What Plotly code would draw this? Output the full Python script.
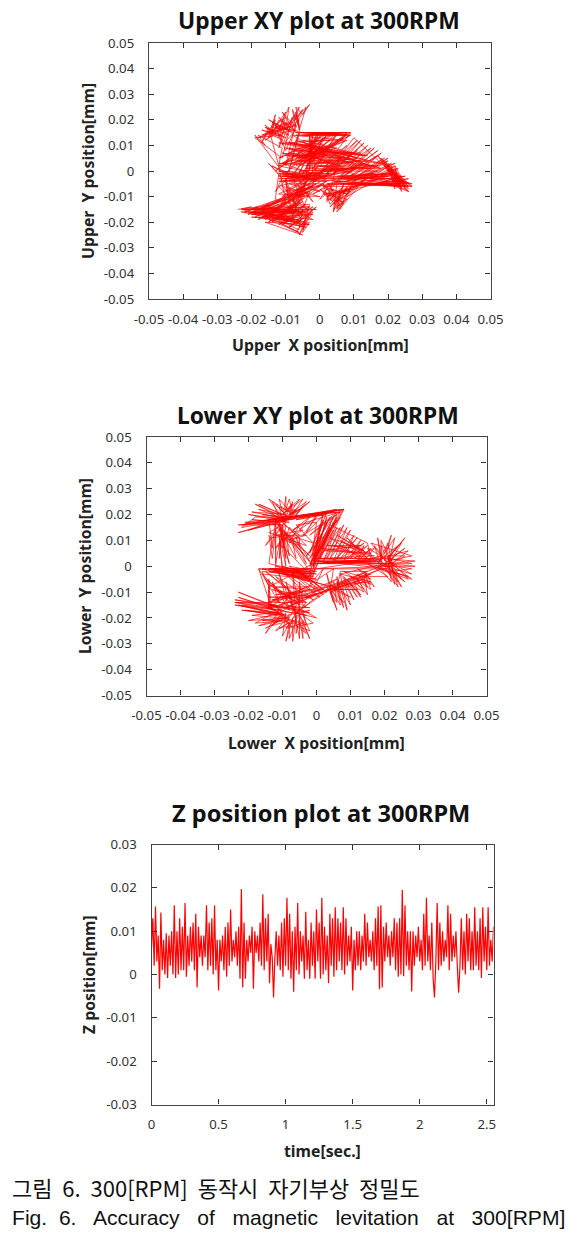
import plotly.graph_objects as go

W, H = 583, 1233

axis_ticks_xy = [-0.05, -0.04, -0.03, -0.02, -0.01, 0, 0.01, 0.02, 0.03, 0.04, 0.05]
axis_labels_xy = ["-0.05", "-0.04", "-0.03", "-0.02", "-0.01", "0", "0.01", "0.02", "0.03", "0.04", "0.05"]
z_ticks = [-0.03, -0.02, -0.01, 0, 0.01, 0.02, 0.03]
z_labels = ["-0.03", "-0.02", "-0.01", "0", "0.01", "0.02", "0.03"]
time_ticks = [0, 0.5, 1, 1.5, 2, 2.5]
time_labels = ["0", "0.5", "1", "1.5", "2", "2.5"]

# Trajectories, in 0.001 mm: (x, y)
upper_path = [
 (-24,-15),(-20,-14),(-23,-15),(-18,-14),(-22,-16),(-15,-13),(-20,-17),(-12,-13),(-19,-18),(-9,-12),(-16,-19),(-7,-13),
 (-14,-20),(-5,-14),(-11,-21),(-3,-15),(-9,-22),(-2,-16),(-6,-25),(-4,-18),(-5,-24),(-3,-20),(-6,-22),(-5,-15),
 (-8,-18),(-6,-11),(-10,-16),(-5,-9),(-12,-14),(-4,-7),(-14,-12),(-3,-8),(-18,-15),(-2,-6),(-20,-16),(-8,-20),
 (-23,-16),(-14,-12),(-21,-17),(-12,-12),(-19,-17),(-10,-12),(-18,-19),(-8,-11),(-16,-18),(-6,-12),(-15,-20),(-5,-12),
 (-13,-19),(-4,-13),(-12,-21),(-3,-14),(-10,-20),(-2,-14),(-9,-22),(-1,-14),(-7,-21),(-2,-15),(-7,-24),(-3,-17),
 (-5,-23),(-3,-13),(-20,-15),(-4,-16),(-22,-16),(-5,-16),(-23,-15),(-6,-15),(-20,-17),(-7,-16),(-17,-18),(-8,-16),
 (-15,-14),(-9,-18),(-13,-15),(-10,-19),(-12,-17),(-7,-19),(-17,-16),(-6,-20),(-19,-16),(-5,-21),(-14,-17),(-4,-20),
 (-20,-18),(-6,-19),(-18,-18),(-4,-22),(-15,-19),(-6,-24),(-12,-20),(-5,-25),(-16,-20),(-3,-21),(-21,-16),(-2,-19),
 (-13,-11),(-12,-1),(-15,3),(-11,-3),(-13,-8),(-9,-2),(-14,2),(-6,-3),(-12,-1),(-3,-2),(-12,-3),(0,-3),(-11,-2),
 (2,-2),(-10,-1),(-1,-4),(-12,0),(1,-1),(-11,-4),(3,-3),(-12,-2),(0,-2),(-8,-9),(1,-5),(-9,-5),(0,-8),(-6,-4),
 (-2,-12),(-8,-3),(-4,-15),(-11,-6),(0,-10),(-12,-9),(-1,-1),(-12,2),(-11,9),(-15,12),(-18,14),(-16,10),(-19,14),
 (-10,-2),(-3,-3),(-12,-4),(2,-4),(-11,-1),(3,-1),(-10,-3),(-2,-1),(-9,-4),(1,-2),(-11,0),(0,-4),(-8,-1),(2,-3),
 (-9,-10),(-3,-5),(-11,-10),(-4,-3),(-12,-6),(-7,-13),(-10,-3),(-9,-13),(-3,-3),(-11,-12),(-1,-5),(-7,-10),(-3,-10),
 (-6,-6),(-8,-12),(-4,-4),(-6,-12),(-2,-3),(-10,-8),(0,-6),(-10,-12),(-12,2),
 (-15,17),(-17,11),(-13,20),(-15,13),(-13,22),(-14,15),(-10,23),(-12,16),(-9,25),(-10,16),(-6,25),(-8,17),(-3,26),
 (-5,22),(-7,25),(-6,18),(-6,15),(-12,20),(-14,14),(-16,18),(-11,12),(-15,15),(-10,19),(-12,9),(-8,21),(-11,5),
 (-19,13),(-11,14),(-17,16),(-10,13),(-16,17),(-9,14),(-14,19),(-8,15),(-15,20),(-9,16),(-12,21),(-7,15),(-11,23),
 (-7,17),(-8,24),(-6,17),(-7,23),(-6,16),(-4,25),(-7,20),(-5,24),(-8,19),(-17,14),(-7,18),(-18,13),(-10,17),(-16,12),
 (-9,19),(-13,17),(-8,16),(-14,17),(-10,21),(-12,13),(-7,22),(-11,10),(-7,16),(-11,15),(-13,18),(-10,8),(-6,20),
 (-7,19),(-10,2),(-6,15),(-9,0),(-6,15),(8,14),(-5,14),(9,15),(-7,15),(7,15),(-4,14),(8,15),(-6,15),(6,15),(-2,7),
 (8,14),(-5,15),(6,14),(-7,14),(9,14),(-3,15),(5,14),(-2,1),(8,15),(-4,2),(7,13),(-6,2),(9,14),(-8,3),(8,12),
 (-11,3),(5,15),(-12,5),(3,15),(-10,-1),(1,15),(-8,-2),(0,15),(-6,-1),(-1,14),(-4,-1),(-2,15),(-3,0),(-3,14),(-2,-1),
 (5,15),(-4,4),(9,15),(0,-1),(11,12),(1,-3),(13,11),(3,-2),(15,9),(5,-4),(17,8),(6,-3),(18,7),(8,-4),(20,5),(10,-4),
 (22,3),(12,-4),(23,1),(14,-4),(25,-2),(16,-5),(26,-3),(18,-5),(27,-6),(20,-5),(26,-8),(22,-5),(25,-6),(19,3),(26,-7),
 (10,13),(2,-1),(12,12),(4,-1),(14,10),(6,-2),(16,9),(8,-1),(17,6),(9,-2),(19,5),(11,-2),(20,4),(13,-2),(21,3),(15,-3),
 (22,2),(17,-3),(23,-1),(18,-2),(24,-2),(19,-4),(25,-4),(21,-4),(26,-5),(20,-3),(27,-5),(22,-3),(26,-6),(23,-2),
 (19,4),(24,-6),(20,3),(22,-7),(21,2),(25,-7),(22,1),(24,-8),(19,2),(26,-8),(18,4),(23,-5),(21,1),(27,-6),
 (21,0),(24,-7),(18,5),(25,-5),(22,2),(23,-6),(17,6),(24,-4),(20,1),(26,-6),(15,-5),(24,-6),(12,-5),(22,-5),(9,-6),
 (20,-4),(7,-8),(17,-3),(8,-10),(14,-2),(5,-16),(11,-2),(3,-14),(9,-8),(1,-9),(8,-11),(4,-15),(6,-8),(5,-14),(7,-12),
 (2,-11),(4,-7),(0,-11),(3,-5),(-2,-9),(10,-1),(-6,4),(16,2),(-9,7),(18,3),(-8,11),(14,6),(-7,9),(10,3),(-10,6),(6,6),
 (2,-12),(7,-6),(3,-11),(8,-7),(4,-13),(9,-6),(6,-14),(3,-6),(7,-13),(2,-7),(8,-9),(1,-6),(11,-6),(3,-9),(13,-5),
 (5,-5),(4,-16),(7,-5),(5,-15),(8,-6),(3,-13),(1,-5),(5,-12),(0,-7),(6,-15),(9,-7),(2,-10),(10,-7),(6,-11),(1,-8),
 (5,-5),(18,-5),(4,-4),(21,-5),(6,-5),(23,-5),(8,-5),(25,-6),(2,-5),(17,-2),(-1,-6),(20,-3),(0,-2),
 (-11,3),(5,9),(-10,11),(3,12),(-7,2),(2,14),(-5,-1),(1,13),(-4,-2),(8,10),(-2,-3),(7,6),(-1,-2),(11,8),(0,-3),(13,3),
 (1,-2),(9,0),(-1,-3),(16,-1),(1,-4),(20,-2),(3,-3),(21,-1),(5,-2),(23,-3),(7,-3),(24,-5),(10,-2),(22,-1),(12,-3),
 (19,-1),(8,-3),(17,0),(-1,0),(15,1),(-4,1),(12,4),(-3,7),(10,7),(-5,12),(7,12),(-8,14),(2,6),(-12,2),(-1,12),(-13,0),
 (-9,4),(4,4),(-11,7),(6,2),(-10,9),(9,5),(-8,6),(12,7),(-6,8),(13,6),(-4,10),(11,5),(-2,3),(14,4),(-7,12),(15,2),
 (-3,-1),(17,2),(0,2),(18,1),(-9,11),(4,7),(-12,11),(1,9),(-7,5),(-1,6),(-9,9),(3,3),(-12,3),(8,1),(-6,0),(10,1),
 (-3,14),(-1,-2),(-6,-18),(-10,-4),(-8,-17),(-3,-1),(-10,-20),(-1,-3),(-12,-18),(2,-4),(-15,-17),(-5,-6),(-17,-15),
 (-10,-11),(-20,-15),(-3,-14),(-22,-15),(-1,-15),(-18,-16),(-2,-17),(-14,-18),(-6,-23),
]

lower_path = [
 (-23,-14),(-12,-15),(-24,-13),(-11,-16),(-23,-10),(-10,-17),(-22,-15),(-9,-19),(-21,-17),(-8,-20),(-20,-21),(-10,-18),
 (-15,-26),(-11,-17),(-18,-22),(-8,-21),(-13,-23),(-9,-18),(-10,-27),(-8,-22),(-9,-29),(-7,-20),(-7,-29),(-6,-19),
 (-6,-26),(-5,-20),(-4,-28),(-4,-21),(-2,-28),(-5,-19),(-3,-23),(-4,-17),(0,-20),(-6,-18),(-2,-17),(-7,-20),(-3,-14),
 (-24,-14),(-13,-16),(-23,-12),(-12,-17),(-24,-15),(-11,-18),(-22,-17),(-10,-19),(-23,-15),(-13,-18),(-19,-19),(-10,-20),
 (-17,-23),(-10,-21),(-16,-21),(-9,-20),(-15,-24),(-8,-19),(-12,-25),(-7,-21),(-11,-24),(-8,-23),(-8,-28),(-6,-21),
 (-5,-28),(-5,-22),(-3,-26),(-6,-23),(-2,-25),(-4,-19),(-1,-22),(-5,-23),(-5,-18),(-9,-19),(-14,-16),(-6,-22),
 (-9,-22),(-5,-13),(-12,-19),(-8,-11),(-14,-16),(-14,-5),(-14,-16),(-14,-8),(-13,-17),(-17,-1),(-11,-14),(-13,-6),
 (-8,-17),(-11,-3),(-6,-19),(-9,-6),(-6,-21),(-7,-3),(-5,-17),(-5,-6),(-4,-14),(-15,-2),(-3,-14),(-13,-9),(-2,-12),
 (-14,-12),(0,-11),(-11,-15),(4,-9),(-9,-16),(3,-9),(-6,-18),(5,-8),(-16,-1),(-2,-1),(-17,-1),(-1,-3),(-14,-2),(-1,-5),
 (-16,-3),(-7,-15),(-15,-5),(-5,-15),(-14,-7),(-3,-16),(-12,-4),(-1,-13),(-10,-2),(1,-12),(-8,-2),(2,-11),(-6,-1),
 (3,-10),(-4,-3),(1,-8),(-12,-8),(-2,-9),(-13,-13),(-4,-10),(-10,-12),(-1,-7),(-14,-14),(2,-9),(-12,-11),(4,-8),
 (-13,-1),(-2,-2),(-12,0),(0,-5),(-13,-2),(-2,-6),(-13,-1),(0,-3),(-14,1),(-13,10),(-14,12),(-13,3),(-12,14),(-12,-1),
 (-12,-2),(-1,-1),(-14,-1),(-3,-3),(-11,-1),(-2,-5),(-10,0),(-1,-4),(-9,-2),(0,-2),(-8,0),(-1,-6),(-7,-1),(-2,-3),
 (-11,9),(-10,-1),(-11,12),(-9,0),(-10,11),(-8,1),(-11,15),(-6,3),(-7,9),(-3,1),(-6,11),(-2,2),(-12,17),(-4,5),(-14,18),
 (-13,7),(-12,18),(-12,1),(-10,16),(-11,3),(-10,14),(-9,3),(-11,17),(-8,4),(-9,13),(-12,7),(-8,12),(-13,11),(-9,16),
 (-10,7),(-8,15),(-5,12),(-8,9),(-5,16),(-10,10),(-4,14),(-12,12),(-3,12),(-9,10),(-5,8),
 (-5,11),(-10,17),(-3,8),(-14,13),(-9,17),(-15,8),(-10,18),(-23,13),(-8,18),(-23,16),(-10,16),(-21,17),(-7,19),(-18,19),
 (-22,15),(-9,18),(-21,16),(-10,19),(-22,16),(-12,18),(-20,14),(-11,17),(-19,18),(-8,17),(-20,20),(-9,18),(-17,22),
 (-10,20),(-17,24),(-8,19),(-16,20),(-11,19),(-13,25),(-9,20),(-12,24),(-10,21),(-11,26),(-7,20),(-8,26),(-9,22),
 (-7,24),(-10,20),(-5,26),(-9,18),(-4,23),(-7,18),(-3,25),(-8,20),(-5,22),(-11,18),
 (-9,20),(-19,21),(-8,18),(-18,24),(-10,19),(-15,22),(-9,17),(-14,26),(-8,21),(-11,23),(-10,18),(-9,27),(-9,19),(-7,25),
 (-8,20),(-6,22),(-9,21),(-4,26),(-8,18),(-2,25),(-10,17),(-6,22),(-8,19),(-14,18),(8,22),(-13,18),(6,22),(-10,18),
 (4,21),(-8,18),(8,22),(-5,19),(5,21),(-14,18),(8,22),(-2,12),(6,21),(-3,4),(7,19),(-2,1),(8,22),(-1,-3),(5,17),(-1,0),
 (-12,18),(7,21),(-9,19),(3,20),(-6,18),(2,20),(-4,19),(0,20),(-3,13),(3,21),(-1,6),(4,19),(-2,3),(6,18),(-1,1),(4,15),
 (-1,3),(5,19),(-2,0),(3,17),(-1,4),(2,18),(-2,5),(1,16),(-1,-1),(6,20),(-4,12),(0,19),(-5,14),(-2,19),(-7,14),(-3,17),
 (7,21),(-1,2),(6,19),(0,4),(3,19),(-1,0),(2,21),(-2,-4),(0,17),(-6,16),(-1,9),(-8,12),(-2,4),(-10,14),(-1,-4),(0,4),
 (5,14),(0,2),(7,15),(3,3),(9,15),(5,2),(12,11),(7,3),(14,9),(9,3),(15,8),(11,3),(17,7),(14,2),(19,4),(16,3),(15,9),
 (4,16),(1,3),(6,15),(2,2),(8,16),(4,3),(10,14),(6,3),(11,12),(8,2),(13,10),(10,3),(14,8),(12,2),(16,7),(13,3),(4,11),
 (14,6),(6,12),(15,5),(7,10),(13,5),(9,11),(15,3),(5,8),(11,7),(3,8),(13,8),(2,6),(16,5),(1,7),(17,4),(0,3),(18,3),
 (17,2),(15,7),(19,4),(18,11),(19,2),(19,8),(20,5),(22,12),(20,2),(24,8),(21,3),(26,11),(20,1),(26,7),(21,2),(28,4),
 (16,9),(21,1),(17,8),(19,0),(19,10),(22,2),(21,9),(18,1),(23,11),(21,0),(25,9),(19,3),(27,6),(22,1),(26,4),(20,4),
 (20,3),(29,2),(21,1),(29,0),(20,0),(28,-3),(21,2),(28,-5),(21,-1),(26,-6),(20,1),(25,-8),(22,0),(24,-6),(21,-2),(23,-7),
 (22,3),(28,1),(19,1),(28,-1),(22,-2),(27,-4),(19,-1),(27,-5),(21,3),(25,-5),(19,2),(24,-8),(21,4),(22,-6),(18,0),
 (20,-1),(22,-3),(15,1),(21,-4),(14,-4),(19,-1),(15,-3),(12,-1),(16,-5),(8,-2),(16,-9),(14,-2),(17,-8),(14,-4),(15,-11),
 (12,-5),(14,-9),(11,-6),(13,-12),(9,-5),(12,-12),(7,-3),(9,-17),(6,-4),(7,-15),(4,-8),(6,-17),(4,-10),(5,-14),(4,-8),
 (13,-3),(15,-8),(12,-3),(16,-7),(10,-4),(14,-10),(10,-7),(13,-11),(8,-4),(11,-13),(8,-6),(10,-15),(6,-6),(8,-16),
 (5,-6),(6,-14),(3,-8),(8,-14),(4,-7),(10,-12),(5,-9),(12,-9),(3,-9),(14,-6),(4,-10),(16,-3),(5,-8),(15,-2),(7,-2),
 (6,-9),(4,-7),(3,-3),(4,-9),(5,-1),(-2,-7),(2,-1),(-1,-9),(6,-5),(-3,-12),(14,-5),(4,-9),(15,-3),(6,-7),(16,-6),(7,-3),
 (20,1),(-1,2),(22,0),(0,-1),(20,3),(-1,1),(18,2),(1,2),(21,-1),(-1,-1),(-2,-5),(-14,-1),(-2,-4),(-16,-2),(-14,-8),
 (-1,1),(19,2),(0,2),(16,2),(1,1),(14,2),(-1,3),(17,3),(0,1),(12,2),(3,1),(19,1),(5,2),(21,1),
 (-5,-12),(-13,-13),(-4,-17),(-14,-15),(-2,-18),(-12,-15),(-7,-24),(-10,-20),(-4,-22),(-9,-24),(-4,-18),(-14,-15),
 (-2,-16),(-15,-16),(-3,-19),(-24,-14),
]

# Z position samples, 0.001 mm, one every 0.01 s
z_samples = [
 6,13,2,15.7,3,9,-3.3,14.3,1,8,0,9.5,-0.8,9,2,10,0,16,-0.8,10,
 0,13,1,11,1,16.5,-0.5,9,2,11,3,12,1,14,-3,11,4,9,2,9,
 4,16,1,12,2,13,0,16,1,8,-3.7,8,3,9,1,11,-0.5,12,2,15,
 3,8,4,10,2,11,-1,19.7,-3,12,-1,8,3,9,5,11,-3.3,10,5,9,3,12,
 2,18.5,1,13,3,14,-2,7,4,-5.3,4,10,2,9,1,12,-0.5,13,2,17.7,
 1,14,-1,10,-4,11,1,16.5,0,10,3,9,-1,14.5,1,8,-1,12,
 2,10,-1,15,3,12,-1,17.7,0,11,1,9,-2,14,2,13,-0.5,15.5,1,13,
 3,12,1,15.5,0,13,2,9,3,11,-3.7,8,1,10,2,10,1,9,3,14,
 2,12,4,8,3,10,1,13,2,15.7,-3.4,16,-3,11,3,12,4,9,
 2,10,4,13,1,12,-0.5,13,0,19.5,-0.4,16,2,10,1,10,-3.9,10,2,9,
 4,11,3,8,1,14,2,17.7,3,9,1,12,-1,-5.3,3,16.5,1,12,2,10,3,8,4,16,
 1,14,3,9,4,10,2,-4.2,2,13,1,10,0,14,3,13,1,10,1,15.5,2,10,1,13,
 -0.8,15.5,3,11,1,15.5,2,8,3,11,
]
z_start, z_step = 0, 0.01

upper_x = [p[0] / 1000 for p in upper_path]
upper_y = [p[1] / 1000 for p in upper_path]
lower_x = [p[0] / 1000 for p in lower_path]
lower_y = [p[1] / 1000 for p in lower_path]
z_values = [v / 1000 for v in z_samples]

RED = "#ff0000"
TICK_FONT = dict(family="Noto Sans", size=13.2, color="#333333")
TITLE_FONT = dict(family="Noto Sans", size=15.8, color="#222222")
HEAD_FONT = dict(family="Noto Sans", size=22.8, color="#111111")


def px_x(a, b):
    return [a / W, b / W]


def px_y(a, b):
    return [1 - b / H, 1 - a / H]


def axis(domain, rng, ticks, labels, anchor, standoff):
    return dict(domain=domain, range=rng, tickmode="array", tickvals=ticks, ticktext=labels,
                ticks="inside", ticklen=5, tickwidth=1, tickcolor="#333333", mirror="ticks",
                showline=True, linecolor="#444444", linewidth=1.3, showgrid=False, zeroline=False,
                tickfont=TICK_FONT, anchor=anchor, tickangle=0, ticklabelstandoff=standoff)


fig = go.Figure()
line = dict(color=RED, width=0.7)
fig.add_trace(go.Scatter(x=upper_x, y=upper_y, mode="lines", line=line, xaxis="x", yaxis="y"))
fig.add_trace(go.Scatter(x=lower_x, y=lower_y, mode="lines", line=line, xaxis="x2", yaxis="y2"))
fig.add_trace(go.Scatter(x0=z_start, dx=z_step, y=z_values, mode="lines", line=dict(color=RED, width=1.2),
                         xaxis="x3", yaxis="y3"))

fig.update_layout(
    width=W, height=H, margin=dict(l=0, r=0, t=0, b=0, autoexpand=False), showlegend=False,
    paper_bgcolor="white", plot_bgcolor="white",
    xaxis=axis(px_x(149, 490.5), [-0.05, 0.05], axis_ticks_xy, axis_labels_xy, "y", 8),
    yaxis=axis(px_y(43, 299), [-0.05, 0.05], axis_ticks_xy, axis_labels_xy, "x", 11),
    xaxis2=axis(px_x(146.5, 486.5), [-0.05, 0.05], axis_ticks_xy, axis_labels_xy, "y2", 8),
    yaxis2=axis(px_y(437, 695.5), [-0.05, 0.05], axis_ticks_xy, axis_labels_xy, "x2", 11),
    xaxis3=axis(px_x(151.5, 493.5), [0, 2.55], time_ticks, time_labels, "y3", 8),
    yaxis3=axis(px_y(844.5, 1104.5), [-0.03, 0.03], z_ticks, z_labels, "x3", 11),
)


def text(s, x, y, font, rot=0, xanchor="center"):
    fig.add_annotation(text=s, x=x / W, y=1 - y / H, xref="paper", yref="paper", showarrow=False,
                       font=font, textangle=rot, xanchor=xanchor, yanchor="middle")


text("<b>Upper XY plot at 300RPM</b>", 319.5, 20, HEAD_FONT)
text("<b>Lower XY plot at 300RPM</b>", 317.5, 415, HEAD_FONT)
text("<b>Z position plot at 300RPM</b>", 321, 813, dict(HEAD_FONT, size=23.6))
text("<b>Upper  X position[mm]</b>", 320, 345, TITLE_FONT)
text("<b>Lower  X position[mm]</b>", 316, 743, TITLE_FONT)
text("<b>time[sec.]</b>", 322, 1151, TITLE_FONT)
text("<b>Upper  Y position[mm]</b>", 88, 171, TITLE_FONT, -90)
text("<b>Lower  Y position[mm]</b>", 85, 566, TITLE_FONT, -90)
text("<b>Z position[mm]</b>", 89, 975, TITLE_FONT, -90)
text("그림  6.  300[RPM]  동작시  자기부상  정밀도", 10, 1187,
     dict(family="Noto Sans CJK KR", size=22, color="#111111"), xanchor="left")
text("Fig.  6.   Accuracy   of   magnetic   levitation   at   300[RPM]", 10, 1217,
     dict(family="Liberation Sans", size=21.1, color="#111111"), xanchor="left")

fig.write_html("out.html", config={"displayModeBar": False},
               post_script="document.body.style.margin='0';")
